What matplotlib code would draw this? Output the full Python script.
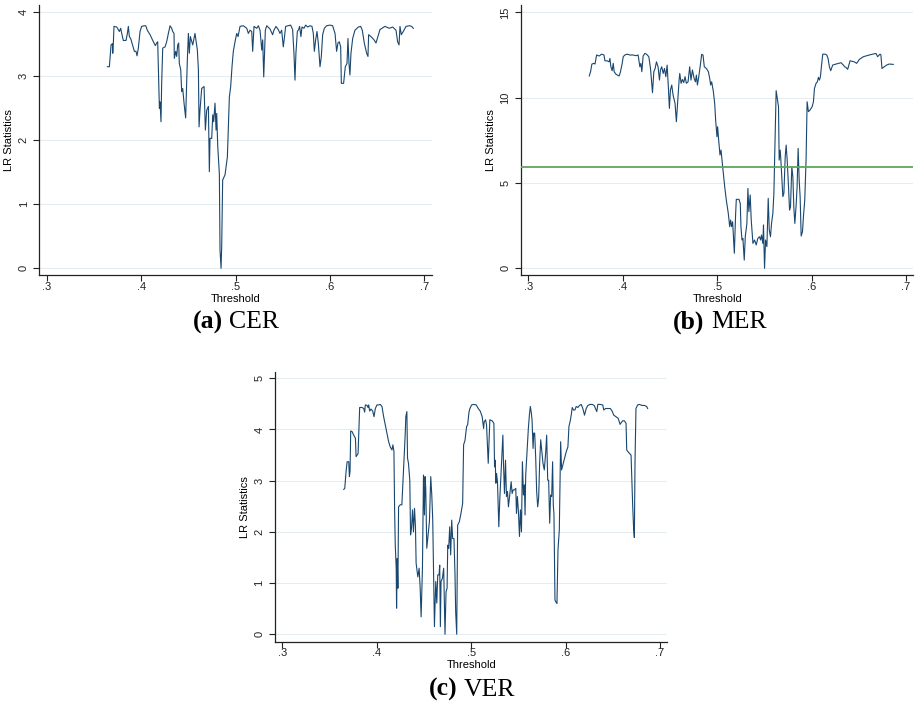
import matplotlib
matplotlib.use("Agg")
import matplotlib.pyplot as plt
from matplotlib.ticker import FuncFormatter

# Data (threshold, LR statistic)
cer_threshold = [0.3643, 0.3664, 0.3682, 0.3696, 0.3700, 0.3706, 0.3713, 0.3742, 0.3759, 0.3770,
                 0.3784, 0.3795, 0.3812, 0.3840, 0.3855, 0.3865, 0.3876, 0.3890, 0.3904, 0.3929,
                 0.3946, 0.3957, 0.3971, 0.3989, 0.4006, 0.4035, 0.4049, 0.4066, 0.4095, 0.4130,
                 0.4151, 0.4165, 0.4176, 0.4183, 0.4194, 0.4201, 0.4211, 0.4218, 0.4229, 0.4254,
                 0.4271, 0.4289, 0.4307, 0.4324, 0.4335, 0.4349, 0.4352, 0.4367, 0.4377, 0.4388,
                 0.4398, 0.4405, 0.4420, 0.4430, 0.4441, 0.4455, 0.4472, 0.4490, 0.4501, 0.4511,
                 0.4522, 0.4547, 0.4571, 0.4596, 0.4607, 0.4614, 0.4624, 0.4642, 0.4667, 0.4681,
                 0.4695, 0.4713, 0.4723, 0.4730, 0.4748, 0.4759, 0.4769, 0.4783, 0.4794, 0.4801,
                 0.4812, 0.4829, 0.4836, 0.4847, 0.4854, 0.4864, 0.4889, 0.4914, 0.4935, 0.4949,
                 0.4963, 0.4977, 0.4995, 0.5013, 0.5027, 0.5048, 0.5083, 0.5119, 0.5136, 0.5154,
                 0.5172, 0.5182, 0.5196, 0.5225, 0.5242, 0.5260, 0.5278, 0.5288, 0.5299, 0.5316,
                 0.5331, 0.5365, 0.5393, 0.5407, 0.5429, 0.5453, 0.5471, 0.5489, 0.5499, 0.5506,
                 0.5517, 0.5531, 0.5559, 0.5584, 0.5605, 0.5619, 0.5630, 0.5640, 0.5655, 0.5669,
                 0.5679, 0.5693, 0.5704, 0.5725, 0.5743, 0.5764, 0.5789, 0.5810, 0.5824, 0.5835,
                 0.5849, 0.5863, 0.5877, 0.5895, 0.5909, 0.5923, 0.5941, 0.5965, 0.6001, 0.6029,
                 0.6054, 0.6071, 0.6085, 0.6099, 0.6114, 0.6121, 0.6145, 0.6163, 0.6181, 0.6191,
                 0.6202, 0.6212, 0.6223, 0.6241, 0.6265, 0.6301, 0.6325, 0.6343, 0.6364, 0.6389,
                 0.6403, 0.6410, 0.6435, 0.6467, 0.6488, 0.6506, 0.6530, 0.6583, 0.6629, 0.6665,
                 0.6700, 0.6717, 0.6732, 0.6742, 0.6756, 0.6777, 0.6806, 0.6841, 0.6866, 0.6883]
cer_lr = [3.15, 3.15, 3.49, 3.51, 3.36, 3.51, 3.78, 3.77, 3.73, 3.70,
          3.75, 3.67, 3.56, 3.56, 3.67, 3.78, 3.62, 3.59, 3.52, 3.39,
          3.39, 3.32, 3.44, 3.70, 3.78, 3.79, 3.79, 3.72, 3.65, 3.54,
          3.48, 3.52, 3.54, 3.15, 2.50, 2.60, 2.29, 2.89, 3.44, 3.46,
          3.54, 3.67, 3.79, 3.75, 3.70, 3.67, 3.28, 3.39, 3.31, 3.49,
          3.52, 3.20, 3.10, 2.76, 2.81, 2.58, 2.35, 3.26, 3.67, 3.36,
          3.62, 3.49, 3.67, 3.41, 3.10, 2.21, 2.47, 2.81, 2.84, 2.16,
          2.47, 2.53, 1.51, 2.03, 2.03, 2.40, 2.29, 2.58, 2.16, 2.42,
          1.90, 1.48, 0.29, 0.00, 0.36, 1.38, 1.46, 1.74, 2.68, 2.84,
          3.15, 3.39, 3.54, 3.67, 3.62, 3.78, 3.79, 3.75, 3.67, 3.72,
          3.70, 3.39, 3.78, 3.75, 3.79, 3.72, 3.41, 3.57, 2.99, 3.72,
          3.79, 3.74, 3.65, 3.72, 3.78, 3.73, 3.67, 3.72, 3.57, 3.46,
          3.59, 3.78, 3.79, 3.80, 3.73, 3.36, 2.94, 3.36, 3.70, 3.73,
          3.78, 3.62, 3.77, 3.75, 3.80, 3.77, 3.79, 3.78, 3.67, 3.39,
          3.57, 3.70, 3.52, 3.15, 3.31, 3.65, 3.75, 3.79, 3.80, 3.79,
          3.67, 3.39, 3.52, 3.54, 3.46, 2.89, 2.89, 3.15, 3.20, 3.59,
          3.20, 3.02, 3.36, 3.59, 3.72, 3.77, 3.78, 3.72, 3.52, 3.36,
          3.31, 3.65, 3.62, 3.57, 3.52, 3.61, 3.73, 3.78, 3.75, 3.77,
          3.72, 3.54, 3.49, 3.78, 3.65, 3.70, 3.78, 3.79, 3.78, 3.75]

mer_threshold = [0.3645, 0.3659, 0.3673, 0.3695, 0.3706, 0.3723, 0.3751, 0.3776, 0.3801, 0.3811,
                 0.3835, 0.3856, 0.3864, 0.3874, 0.3888, 0.3899, 0.3909, 0.3927, 0.3944, 0.3962,
                 0.3976, 0.3987, 0.3994, 0.4005, 0.4022, 0.4047, 0.4075, 0.4110, 0.4138, 0.4163,
                 0.4181, 0.4192, 0.4202, 0.4216, 0.4234, 0.4251, 0.4276, 0.4294, 0.4304, 0.4315,
                 0.4329, 0.4343, 0.4357, 0.4374, 0.4389, 0.4399, 0.4413, 0.4428, 0.4442, 0.4456,
                 0.4470, 0.4484, 0.4494, 0.4505, 0.4519, 0.4533, 0.4554, 0.4568, 0.4582, 0.4597,
                 0.4604, 0.4618, 0.4632, 0.4646, 0.4660, 0.4674, 0.4692, 0.4709, 0.4723, 0.4738,
                 0.4756, 0.4770, 0.4780, 0.4791, 0.4805, 0.4822, 0.4836, 0.4850, 0.4864, 0.4886,
                 0.4907, 0.4921, 0.4931, 0.4942, 0.4960, 0.4974, 0.4984, 0.4998, 0.5005, 0.5016,
                 0.5030, 0.5041, 0.5051, 0.5062, 0.5080, 0.5097, 0.5118, 0.5133, 0.5143, 0.5153,
                 0.5164, 0.5182, 0.5196, 0.5203, 0.5231, 0.5245, 0.5252, 0.5263, 0.5273, 0.5287,
                 0.5298, 0.5315, 0.5326, 0.5336, 0.5350, 0.5361, 0.5379, 0.5396, 0.5414, 0.5431,
                 0.5449, 0.5460, 0.5470, 0.5484, 0.5491, 0.5502, 0.5513, 0.5527, 0.5541, 0.5552,
                 0.5565, 0.5576, 0.5590, 0.5601, 0.5611, 0.5625, 0.5640, 0.5650, 0.5657, 0.5668,
                 0.5675, 0.5686, 0.5696, 0.5707, 0.5721, 0.5731, 0.5742, 0.5756, 0.5767, 0.5777,
                 0.5791, 0.5802, 0.5812, 0.5823, 0.5837, 0.5847, 0.5858, 0.5869, 0.5879, 0.5890,
                 0.5904, 0.5914, 0.5928, 0.5942, 0.5953, 0.5967, 0.5985, 0.6006, 0.6020, 0.6031,
                 0.6048, 0.6062, 0.6073, 0.6084, 0.6094, 0.6108, 0.6119, 0.6144, 0.6161, 0.6175,
                 0.6189, 0.6203, 0.6224, 0.6259, 0.6288, 0.6312, 0.6337, 0.6351, 0.6365, 0.6383,
                 0.6408, 0.6453, 0.6478, 0.6506, 0.6549, 0.6612, 0.6648, 0.6683, 0.6700, 0.6725,
                 0.6735, 0.6746, 0.6771, 0.6795, 0.6823, 0.6866]
mer_lr = [11.27, 11.52, 11.97, 12.01, 11.97, 12.50, 12.44, 12.55, 12.50, 12.16,
          12.16, 12.10, 12.30, 11.81, 11.58, 12.01, 11.52, 11.38, 11.32, 11.27,
          11.52, 11.81, 12.01, 12.40, 12.50, 12.55, 12.50, 12.50, 12.46, 12.50,
          11.81, 12.01, 11.52, 12.44, 12.59, 12.55, 12.40, 11.71, 11.03, 10.29,
          11.52, 11.71, 12.10, 11.81, 11.03, 11.62, 11.81, 11.42, 11.71, 11.23,
          11.91, 10.54, 9.37, 10.45, 10.74, 10.15, 9.66, 8.59, 9.76, 11.03,
          11.42, 10.84, 11.07, 10.88, 11.23, 10.84, 10.93, 11.81, 11.03, 11.62,
          11.13, 10.93, 11.32, 10.74, 11.23, 11.91, 12.54, 12.50, 11.81, 11.71,
          11.52, 11.13, 10.74, 10.93, 10.35, 9.66, 8.69, 7.71, 8.30, 7.52,
          6.64, 6.93, 6.34, 5.76, 4.78, 4.00, 3.22, 2.44, 2.83, 2.44,
          2.73, 0.88, 3.22, 4.04, 4.04, 3.80, 2.44, 1.66, 1.75, 0.48,
          1.85, 2.63, 4.68, 3.32, 4.30, 2.83, 1.46, 1.66, 1.37, 1.75,
          1.85, 1.66, 1.95, 1.46, 2.54, 0.00, 1.66, 1.27, 4.10, 2.24,
          1.85, 2.63, 3.22, 4.39, 6.93, 10.41, 9.86, 9.47, 6.34, 6.93,
          6.34, 5.17, 4.20, 4.39, 6.54, 7.22, 6.34, 4.78, 3.41, 3.61,
          5.95, 5.37, 3.61, 2.63, 3.71, 4.78, 7.03, 5.17, 4.20, 1.89,
          2.15, 3.02, 4.00, 6.34, 9.76, 9.18, 9.28, 9.47, 9.76, 10.54,
          10.84, 10.93, 11.19, 11.03, 11.23, 12.01, 12.55, 12.55, 12.50, 12.30,
          11.81, 11.58, 11.91, 11.97, 12.01, 12.05, 11.91, 11.81, 11.77, 11.66,
          12.16, 12.10, 12.01, 12.24, 12.40, 12.50, 12.55, 12.59, 12.40, 12.55,
          12.50, 11.71, 11.81, 11.91, 11.97, 11.95]
mer_critical = 5.94

ver_threshold = [0.3650, 0.3661, 0.3675, 0.3686, 0.3703, 0.3710, 0.3717, 0.3724, 0.3738, 0.3756,
                 0.3774, 0.3781, 0.3791, 0.3802, 0.3819, 0.3844, 0.3862, 0.3872, 0.3879, 0.3897,
                 0.3907, 0.3914, 0.3925, 0.3939, 0.3957, 0.3971, 0.3985, 0.4002, 0.4020, 0.4037,
                 0.4055, 0.4073, 0.4090, 0.4108, 0.4126, 0.4143, 0.4161, 0.4171, 0.4182, 0.4189,
                 0.4196, 0.4206, 0.4210, 0.4217, 0.4224, 0.4231, 0.4249, 0.4266, 0.4284, 0.4301,
                 0.4308, 0.4319, 0.4326, 0.4336, 0.4350, 0.4358, 0.4368, 0.4379, 0.4389, 0.4400,
                 0.4410, 0.4417, 0.4435, 0.4449, 0.4460, 0.4470, 0.4484, 0.4495, 0.4505, 0.4512,
                 0.4519, 0.4530, 0.4544, 0.4558, 0.4572, 0.4583, 0.4593, 0.4604, 0.4611, 0.4625,
                 0.4636, 0.4646, 0.4660, 0.4667, 0.4674, 0.4681, 0.4695, 0.4709, 0.4723, 0.4734,
                 0.4745, 0.4752, 0.4762, 0.4773, 0.4783, 0.4794, 0.4804, 0.4818, 0.4829, 0.4836,
                 0.4847, 0.4857, 0.4875, 0.4892, 0.4910, 0.4920, 0.4935, 0.4952, 0.4963, 0.4977,
                 0.4987, 0.5005, 0.5026, 0.5054, 0.5075, 0.5096, 0.5117, 0.5132, 0.5138, 0.5153,
                 0.5163, 0.5181, 0.5188, 0.5198, 0.5223, 0.5241, 0.5248, 0.5255, 0.5262, 0.5269,
                 0.5279, 0.5293, 0.5304, 0.5315, 0.5325, 0.5336, 0.5343, 0.5353, 0.5364, 0.5374,
                 0.5385, 0.5395, 0.5409, 0.5424, 0.5434, 0.5445, 0.5459, 0.5473, 0.5480, 0.5490,
                 0.5501, 0.5512, 0.5522, 0.5533, 0.5543, 0.5554, 0.5564, 0.5571, 0.5578, 0.5592,
                 0.5606, 0.5617, 0.5627, 0.5638, 0.5645, 0.5656, 0.5663, 0.5673, 0.5684, 0.5694,
                 0.5705, 0.5715, 0.5726, 0.5737, 0.5751, 0.5761, 0.5775, 0.5789, 0.5800, 0.5811,
                 0.5821, 0.5832, 0.5842, 0.5853, 0.5863, 0.5870, 0.5877, 0.5888, 0.5895, 0.5909,
                 0.5920, 0.5934, 0.5948, 0.5958, 0.5972, 0.5990, 0.6008, 0.6025, 0.6036, 0.6050,
                 0.6060, 0.6071, 0.6085, 0.6099, 0.6113, 0.6131, 0.6148, 0.6166, 0.6183, 0.6201,
                 0.6219, 0.6236, 0.6260, 0.6282, 0.6303, 0.6317, 0.6331, 0.6342, 0.6366, 0.6394,
                 0.6405, 0.6423, 0.6447, 0.6475, 0.6493, 0.6511, 0.6535, 0.6557, 0.6578, 0.6592,
                 0.6606, 0.6623, 0.6641, 0.6648, 0.6669, 0.6694, 0.6701, 0.6711, 0.6721, 0.6729,
                 0.6736, 0.6746, 0.6764, 0.6782, 0.6810, 0.6835, 0.6859, 0.6870]
ver_lr = [2.83, 2.85, 3.18, 3.37, 3.37, 3.08, 3.18, 3.97, 3.96, 3.89,
          3.83, 3.47, 3.50, 3.53, 4.43, 4.43, 4.41, 4.34, 4.48, 4.47,
          4.43, 4.48, 4.36, 4.40, 4.36, 4.25, 4.41, 4.48, 4.48, 4.49,
          4.45, 4.25, 4.09, 3.93, 3.76, 3.66, 3.60, 3.70, 3.57, 2.46,
          1.74, 1.29, 0.51, 1.48, 0.90, 2.49, 2.53, 2.53, 3.24, 3.89,
          4.25, 4.35, 3.44, 3.34, 3.01, 1.94, 2.07, 2.43, 2.00, 2.46,
          2.10, 1.39, 1.12, 1.29, 0.90, 0.34, 1.29, 3.11, 2.33, 3.08,
          2.85, 1.68, 1.94, 2.20, 3.08, 2.72, 2.23, 0.96, 0.15, 1.03,
          0.61, 1.16, 1.16, 1.35, 0.15, 1.03, 1.09, 1.29, 0.00, 0.83,
          0.90, 1.74, 1.68, 2.10, 1.55, 2.23, 1.87, 1.87, 1.16, 0.44,
          0.00, 2.13, 2.20, 2.36, 2.56, 3.70, 3.79, 4.06, 4.09, 4.34,
          4.41, 4.48, 4.49, 4.48, 4.41, 4.36, 4.25, 4.02, 4.15, 4.19,
          4.09, 3.34, 3.70, 4.19, 4.17, 4.12, 3.27, 3.40, 2.95, 3.14,
          2.98, 2.10, 2.66, 3.08, 3.50, 3.89, 3.31, 2.75, 3.40, 2.69,
          2.79, 2.49, 2.72, 2.98, 2.75, 2.82, 2.82, 2.85, 2.36, 2.69,
          2.39, 1.91, 2.43, 2.00, 3.37, 2.72, 2.92, 2.33, 3.11, 3.57,
          4.02, 4.28, 4.45, 4.32, 4.19, 3.63, 3.93, 3.93, 3.44, 2.79,
          2.49, 2.66, 3.37, 3.80, 3.53, 3.34, 3.21, 3.53, 3.89, 3.01,
          3.01, 2.17, 2.72, 2.69, 3.37, 2.53, 2.36, 0.67, 0.64, 0.60,
          1.65, 2.04, 3.76, 3.21, 3.31, 3.44, 3.57, 3.66, 4.06, 4.17,
          4.28, 4.43, 4.38, 4.38, 4.45, 4.43, 4.47, 4.49, 4.41, 4.28,
          4.41, 4.47, 4.49, 4.49, 4.47, 4.41, 4.35, 4.49, 4.49, 4.48,
          4.38, 4.41, 4.41, 4.41, 4.36, 4.28, 4.25, 4.22, 4.10, 4.14,
          4.17, 4.17, 4.12, 3.60, 3.55, 3.50, 3.08, 2.53, 2.07, 1.89,
          3.37, 4.41, 4.48, 4.49, 4.47, 4.47, 4.45, 4.41]

x_ticks = [0.3, 0.4, 0.5, 0.6, 0.7]

NAVY = "#1a476f"
GREEN = "#5fa55a"
GRID = "#e4edf0"
SANS = "Liberation Sans"
SERIF = "Liberation Serif"


def fmt_x(x, pos):
    return f"{x:.1f}".lstrip("0")


def draw_panel(ax, thr, lr, yticks, ylim, crit=None):
    ax.plot(thr, lr, color=NAVY, lw=0.8, zorder=3)
    if crit is not None:
        ax.axhline(crit, color=GREEN, lw=1.3, zorder=4)

    ax.set_xlim(0.2922, 0.7078)
    ax.set_ylim(*ylim)
    ax.set_xticks(x_ticks)
    ax.set_yticks(yticks)
    ax.xaxis.set_major_formatter(FuncFormatter(fmt_x))

    ax.grid(axis="y", color=GRID, lw=0.8)
    ax.set_axisbelow(True)
    for side in ["top", "right"]:
        ax.spines[side].set_visible(False)
    for side in ["left", "bottom"]:
        ax.spines[side].set_linewidth(0.9)
        ax.spines[side].set_color("#222222")

    ax.tick_params(axis="x", length=4, width=0.8, pad=0.8, labelsize=8, colors="#222222")
    ax.tick_params(axis="y", length=4, width=0.8, pad=3.5, labelsize=8, colors="#222222",
                   labelrotation=90)
    for lab in ax.get_yticklabels():
        lab.set_va("center")
    for lab in ax.get_xticklabels() + ax.get_yticklabels():
        lab.set_family(SANS)

    ax.set_xlabel("Threshold", family=SANS, fontsize=8, labelpad=1.5)
    ax.set_ylabel("LR Statistics", family=SANS, fontsize=8, labelpad=3.5)


def panel_title(fig, x_split, y, tag, name):
    # bold tag + regular name, like "(a) CER"
    fig.text((x_split - 6.4) / 916, y, tag, ha="right", va="baseline",
             family=SERIF, weight="bold", fontsize=18.5)
    fig.text(x_split / 916, y, name, ha="left", va="baseline",
             family=SERIF, fontsize=18.5)


fig = plt.figure(figsize=(9.16, 7.01), dpi=100)

ax_a = fig.add_axes([39.3 / 916, 425.7 / 701, 392.4 / 916, 270.3 / 701])
ax_b = fig.add_axes([521 / 916, 425.7 / 701, 392.3 / 916, 270.3 / 701])
ax_c = fig.add_axes([275 / 916, 59.3 / 701, 392.3 / 916, 270 / 701])

draw_panel(ax_a, cer_threshold, cer_lr, [0, 1, 2, 3, 4], (-0.109, 4.114))
draw_panel(ax_b, mer_threshold, mer_lr, [0, 5, 10, 15], (-0.41, 15.43), crit=mer_critical)
draw_panel(ax_c, ver_threshold, ver_lr, [0, 1, 2, 3, 4, 5], (-0.145, 5.129))

panel_title(fig, 229.5, 0.5317, "(a)", "CER")
panel_title(fig, 711.1, 0.5317, "(b)", "MER")
panel_title(fig, 463.6, 0.0075, "(c)", "VER")

fig.savefig("out.png", dpi=100)
plt.close(fig)
